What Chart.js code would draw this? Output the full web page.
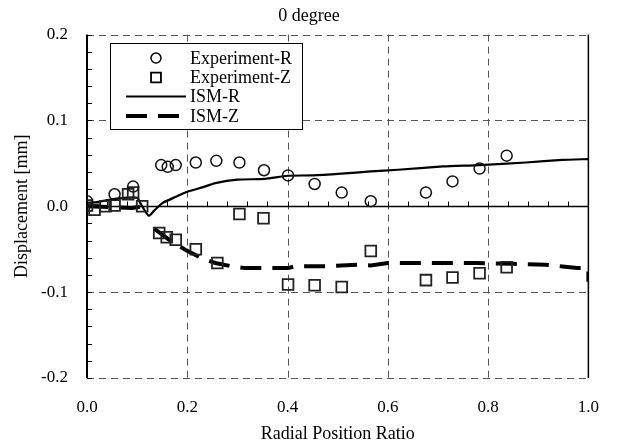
<!DOCTYPE html>
<html>
<head>
<meta charset="utf-8">
<script src="https://cdn.jsdelivr.net/npm/chart.js@4/dist/chart.umd.min.js"></script>
<style>
  html, body { margin: 0; padding: 0; background: #fff; }
  #wrap { width: 618px; height: 443px; }
</style>
</head>
<body>
<div id="wrap"><canvas id="disp"></canvas></div>
<script>
// data
const expRX = [0.0, 0.055, 0.092, 0.148, 0.161, 0.177, 0.217, 0.258, 0.304, 0.353, 0.401, 0.454, 0.508, 0.566, 0.676, 0.729, 0.783, 0.837];
const expRY = [0.006, 0.014, 0.023, 0.048, 0.046, 0.048, 0.051, 0.053, 0.051, 0.042, 0.036, 0.026, 0.016, 0.006, 0.016, 0.029, 0.044, 0.059];

const expZX = [0.0, 0.015, 0.037, 0.055, 0.082, 0.092, 0.11, 0.144, 0.159, 0.177, 0.217, 0.26, 0.304, 0.352, 0.401, 0.454, 0.508, 0.566, 0.676, 0.729, 0.783, 0.837];
const expZY = [0.001, -0.004, 0.0, 0.001, 0.014, 0.016, 0.0, -0.031, -0.036, -0.039, -0.050, -0.066, -0.009, -0.014, -0.091, -0.092, -0.094, -0.052, -0.086, -0.083, -0.078, -0.071];

const ismRX = [0, 0.02, 0.05, 0.08, 0.1, 0.108, 0.123, 0.134, 0.151, 0.177, 0.2, 0.23, 0.256, 0.3, 0.355, 0.4, 0.45, 0.507, 0.566, 0.62, 0.71, 0.783, 0.875, 0.948, 1.0];
const ismRY = [0.004, 0.005, 0.008, 0.010, 0.010, 0.002, -0.011, -0.005, 0.004, 0.011, 0.017, 0.022, 0.027, 0.031, 0.032, 0.0356, 0.036, 0.038, 0.0406, 0.0426, 0.0464, 0.048, 0.051, 0.054, 0.055];

const ismZX = [0, 0.05, 0.09, 0.11, 0.12, 0.134, 0.164, 0.197, 0.227, 0.256, 0.289, 0.316, 0.35, 0.401, 0.414, 0.48, 0.54, 0.566, 0.6, 0.7, 0.777, 0.85, 0.915, 0.948, 0.978, 1.0, 1.0, 1.0];
const ismZY = [0.0, -0.001, -0.002, 0.0, null, -0.026, -0.039, -0.051, -0.060, -0.066, -0.070, -0.072, -0.072, -0.072, -0.070, -0.0698, -0.068, -0.069, -0.066, -0.066, -0.066, -0.067, -0.068, -0.070, -0.072, -0.072, -0.076, -0.088];

const xTicks = [0, 0.2, 0.4, 0.6, 0.8, 1.0];
const yTicks = [-0.2, -0.1, 0, 0.1, 0.2];

const serif = 'Liberation Serif';

function pts(xs, ys) {
  return xs.map((x, i) => ({ x: x, y: ys[i] }));
}

// frame, dashed grid and the inward ticks
const framePlugin = {
  id: 'frame',
  beforeDatasetsDraw(chart) {
    const { ctx, chartArea: a, scales: { x, y } } = chart;
    ctx.save();
    ctx.lineWidth = 1;
    ctx.strokeStyle = '#555';
    ctx.setLineDash([7, 5]);
    for (const v of xTicks.slice(1, -1)) {
      const px = Math.round(x.getPixelForValue(v)) + 0.5;
      ctx.beginPath(); ctx.moveTo(px, a.top); ctx.lineTo(px, a.bottom); ctx.stroke();
    }
    for (const v of yTicks) {
      if (v === 0) continue;
      const py = Math.round(y.getPixelForValue(v)) + 0.5;
      ctx.beginPath(); ctx.moveTo(a.left, py); ctx.lineTo(a.right, py); ctx.stroke();
    }
    ctx.setLineDash([]);
    ctx.strokeStyle = '#000';
    // zero line
    const y0 = Math.round(y.getPixelForValue(0)) + 0.5;
    ctx.lineWidth = 1.5;
    ctx.beginPath(); ctx.moveTo(a.left, y0); ctx.lineTo(a.right, y0); ctx.stroke();
    // left and right axes
    ctx.lineWidth = 2;
    ctx.beginPath(); ctx.moveTo(a.left, a.top); ctx.lineTo(a.left, a.bottom); ctx.stroke();
    ctx.lineWidth = 1.5;
    ctx.beginPath(); ctx.moveTo(a.right, a.top); ctx.lineTo(a.right, a.bottom); ctx.stroke();
    // minor ticks
    ctx.lineWidth = 1;
    for (let i = -10; i <= 10; i++) {
      const py = Math.round(y.getPixelForValue(i * 0.02)) + 0.5;
      ctx.beginPath(); ctx.moveTo(a.left, py); ctx.lineTo(a.left + 5, py); ctx.stroke();
    }
    for (let i = 1; i < 25; i++) {
      const px = Math.round(x.getPixelForValue(i * 0.04)) + 0.5;
      ctx.beginPath(); ctx.moveTo(px, y0); ctx.lineTo(px, y0 - 5); ctx.stroke();
    }
    ctx.restore();
  }
};

// boxed legend like the original
const legendBox = {
  id: 'legendBox',
  afterDraw(chart) {
    const { ctx } = chart;
    const ds = chart.data.datasets;
    const bx = 110, by = 43, bw = 192, bh = 86;
    ctx.save();
    ctx.fillStyle = '#fff';
    ctx.fillRect(bx, by, bw, bh);
    ctx.strokeStyle = '#000';
    ctx.lineWidth = 1;
    ctx.strokeRect(bx + 0.5, by + 0.5, bw, bh);
    const rows = [58, 77.5, 96.5, 116];
    ds.forEach((d, i) => {
      const ry = rows[i];
      ctx.strokeStyle = '#000';
      ctx.setLineDash([]);
      if (d.showLine) {
        ctx.lineWidth = d.borderWidth;
        ctx.setLineDash(d.borderDash || []);
        ctx.beginPath(); ctx.moveTo(126, ry); ctx.lineTo(i === 3 ? 180 : 186, ry); ctx.stroke();
      } else {
        ctx.fillStyle = 'rgba(0,0,0,0)';
        ctx.lineWidth = d.borderWidth;
        Chart.helpers.drawPoint(ctx, {
          pointStyle: d.pointStyle, radius: d.pointStyle === 'rect' ? 7 : 5, borderWidth: d.borderWidth
        }, 156, ry);
      }
      ctx.setLineDash([]);
      ctx.fillStyle = '#000';
      ctx.font = '18px "' + serif + '"';
      ctx.textBaseline = 'middle';
      ctx.textAlign = 'left';
      ctx.fillText(d.label, 190, ry + 1);
    });
    ctx.restore();
  }
};

new Chart(document.getElementById('disp'), {
  type: 'scatter',
  data: {
    datasets: [
      {
        label: 'Experiment-R',
        data: pts(expRX, expRY),
        pointStyle: 'circle',
        pointRadius: 5.5,
        borderColor: '#111',
        backgroundColor: 'rgba(0,0,0,0)',
        borderWidth: 1.5,
        showLine: false
      },
      {
        label: 'Experiment-Z',
        data: pts(expZX, expZY),
        pointStyle: 'rect',
        pointRadius: 7.6,
        borderColor: '#222',
        backgroundColor: 'rgba(0,0,0,0)',
        borderWidth: 1.8,
        showLine: false
      },
      {
        label: 'ISM-R',
        data: pts(ismRX, ismRY),
        showLine: true,
        pointRadius: 0,
        borderColor: '#000',
        borderWidth: 2.2,
        tension: 0.2
      },
      {
        label: 'ISM-Z',
        data: pts(ismZX, ismZY),
        showLine: true,
        spanGaps: false,
        pointRadius: 0,
        borderColor: '#000',
        borderWidth: 4,
        borderDash: [21, 11],
        tension: 0
      }
    ]
  },
  options: {
    responsive: true,
    maintainAspectRatio: false,
    animation: false,
    layout: { padding: 0 },
    plugins: {
      legend: { display: false },
      tooltip: { enabled: false },
      title: {
        display: true,
        text: '0 degree',
        color: '#000',
        font: { family: serif, size: 18, weight: 'normal' },
        padding: { top: 5, bottom: 8 }
      }
    },
    scales: {
      x: {
        type: 'linear',
        min: 0,
        max: 1,
        afterFit(s) { s.height = 65; },
        afterBuildTicks(s) { s.ticks = xTicks.map(v => ({ value: v })); },
        grid: { display: false, drawTicks: false },
        border: { display: false },
        ticks: {
          color: '#000',
          padding: 19,
          maxRotation: 0,
          font: { family: serif, size: 17 },
          callback: v => v.toFixed(1)
        },
        title: {
          display: true,
          text: 'Radial Position Ratio',
          color: '#000',
          font: { family: serif, size: 18, lineHeight: 1 },
          padding: { top: 0, bottom: 0 }
        }
      },
      y: {
        min: -0.2,
        max: 0.2,
        afterFit(s) { s.width = 87; },
        afterBuildTicks(s) { s.ticks = yTicks.map(v => ({ value: v })); },
        grid: { display: false, drawTicks: false },
        border: { display: false },
        ticks: {
          color: '#000',
          padding: 19,
          font: { family: serif, size: 17 },
          callback: v => v.toFixed(1)
        },
        title: {
          display: true,
          text: 'Displacement [mm]',
          color: '#000',
          font: { family: serif, size: 18 },
          padding: { top: 11, bottom: 0 }
        }
      },
      // empty right-hand axis that only holds the right margin
      yr: {
        position: 'right',
        min: -0.2,
        max: 0.2,
        afterFit(s) { s.width = 25; },
        grid: { display: false, drawTicks: false },
        border: { display: false },
        ticks: { display: false }
      }
    }
  },
  plugins: [framePlugin, legendBox]
});
</script>
</body>
</html>
